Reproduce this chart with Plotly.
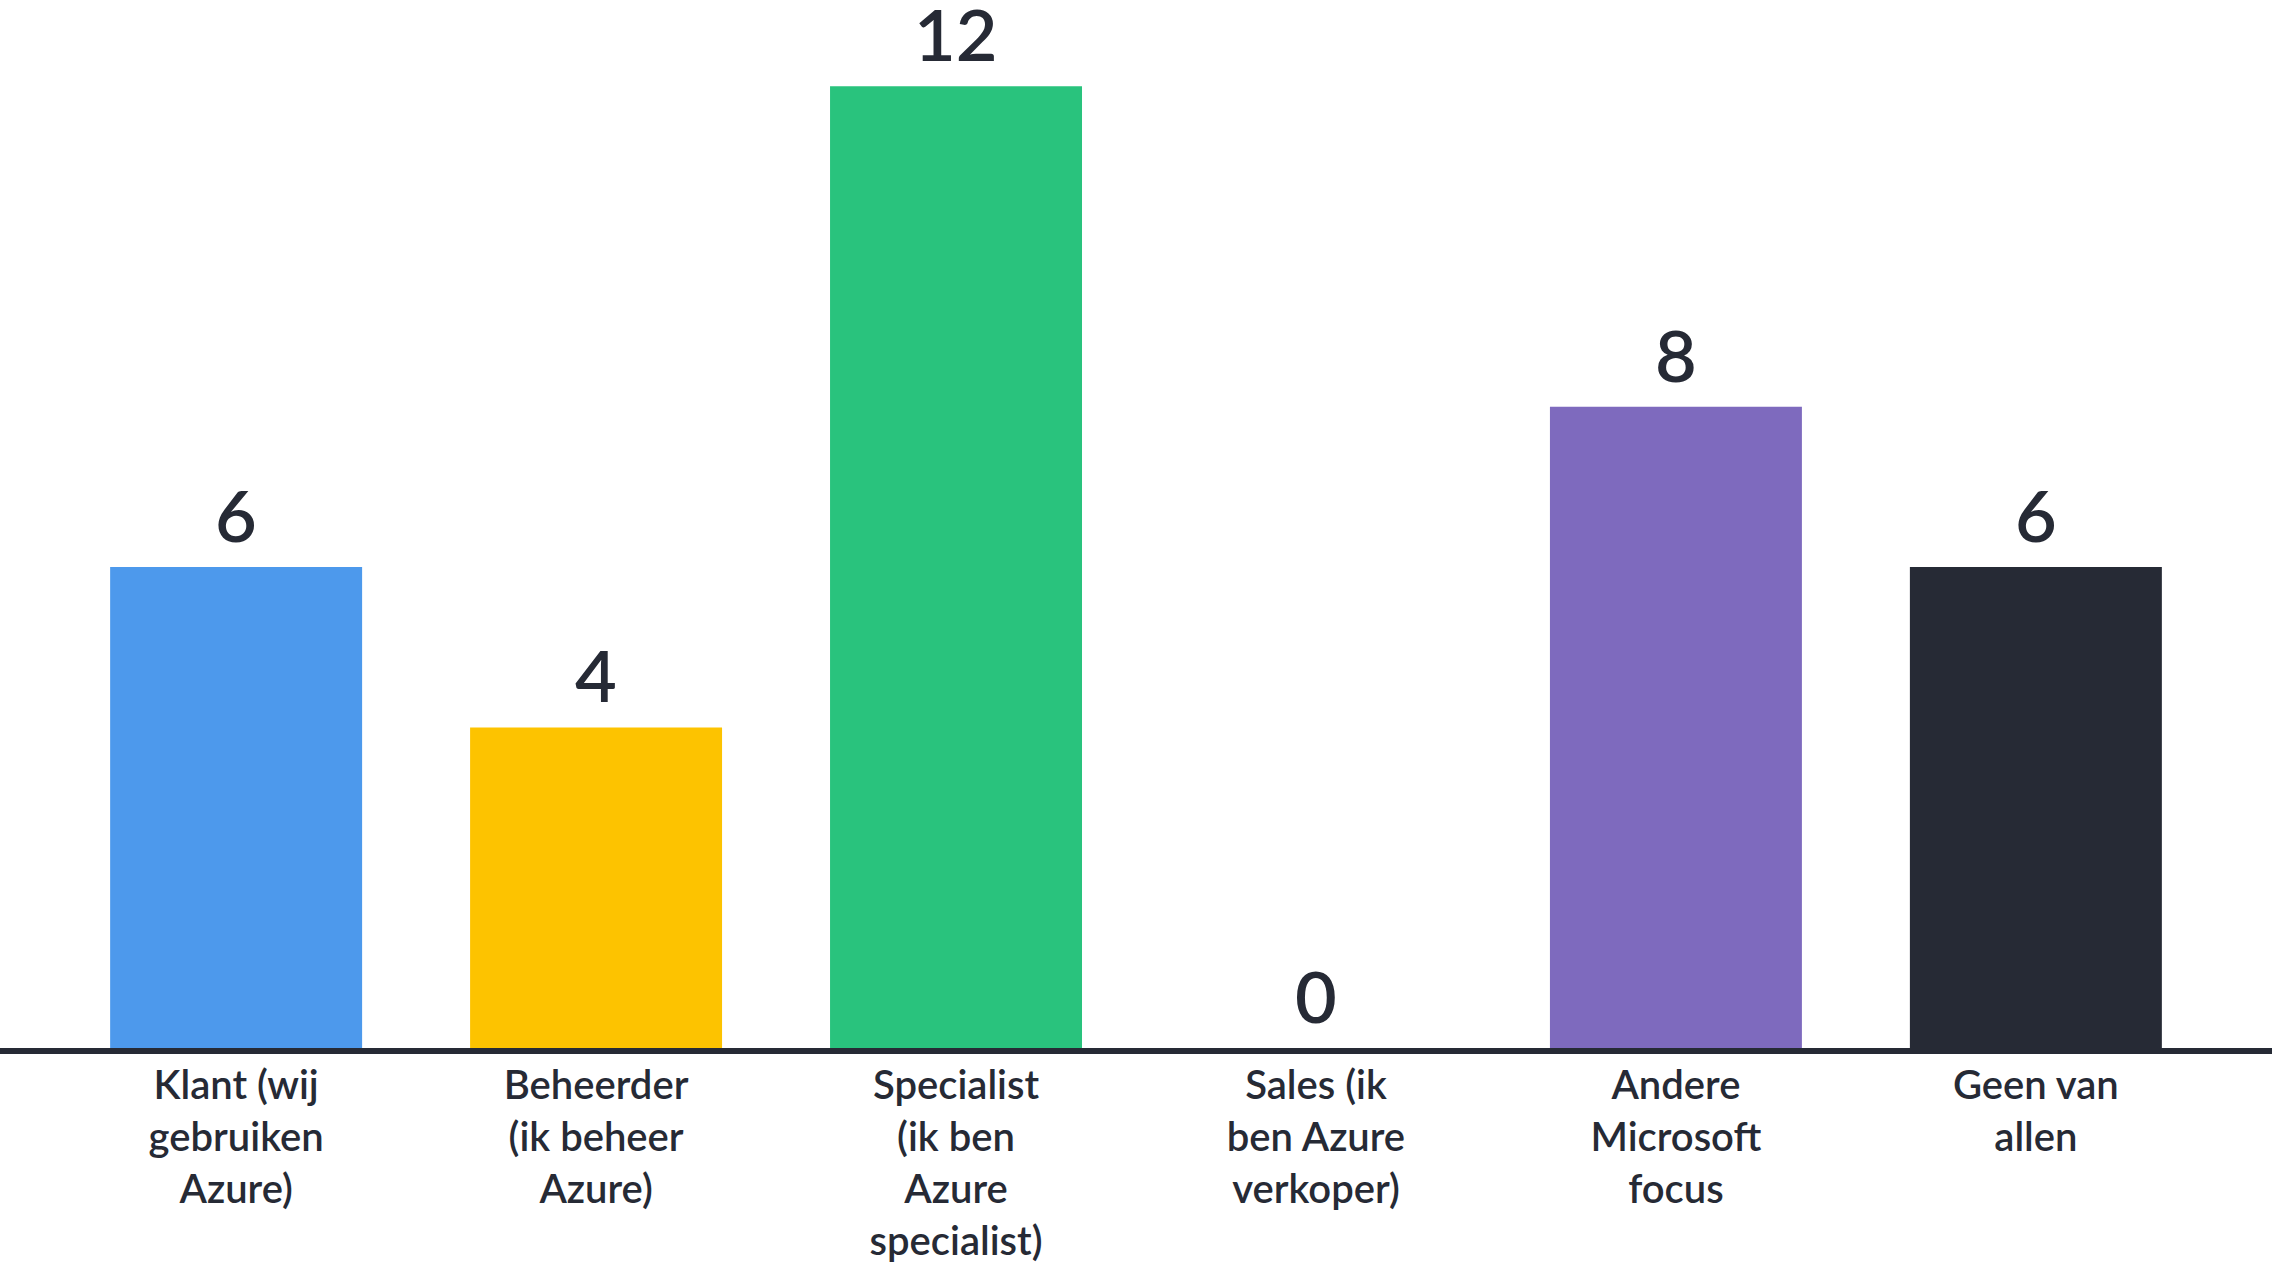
import plotly.graph_objects as go

categories = [
    "Klant (wij<br>gebruiken<br>Azure)",
    "Beheerder<br>(ik beheer<br>Azure)",
    "Specialist<br>(ik ben<br>Azure<br>specialist)",
    "Sales (ik<br>ben Azure<br>verkoper)",
    "Andere<br>Microsoft<br>focus",
    "Geen van<br>allen",
]
values = [6, 4, 12, 0, 8, 6]
colors = ["#4d99ec", "#fdc300", "#29c37d", "#ffffff", "#7e6abe", "#262a35"]

FONT = "Lato"
TEXT = "#262a35"

fig = go.Figure()
fig.add_trace(go.Bar(
    x=categories,
    y=values,
    marker=dict(color=colors, line=dict(width=0)),
    width=0.7,
    hoverinfo="skip",
))

for c, v in zip(categories, values):
    fig.add_annotation(
        x=c, y=v, text=str(v), showarrow=False,
        yanchor="bottom", yshift=8,
        font=dict(family=FONT, size=72, color=TEXT, weight=600),
    )

fig.update_layout(
    width=2272, height=1268,
    margin=dict(l=0, r=0, t=6, b=220, autoexpand=False),
    paper_bgcolor="white", plot_bgcolor="white",
    showlegend=False,
    bargap=0.3,
    xaxis=dict(
        range=[-0.656, 5.656],
        automargin=False,
        showline=True, linecolor=TEXT, linewidth=6,
        showgrid=False, zeroline=False,
        ticks="", ticklabelstandoff=-3,
        tickfont=dict(family=FONT, size=40, color=TEXT, weight=600),
    ),
    yaxis=dict(
        range=[0, 13], visible=False, showgrid=False, zeroline=False,
        automargin=False,
    ),
)

fig.write_html(
    "out.html",
    config={"displayModeBar": False, "staticPlot": True},
    post_script="document.body.style.margin='0px';document.body.style.overflow='hidden';",
)
